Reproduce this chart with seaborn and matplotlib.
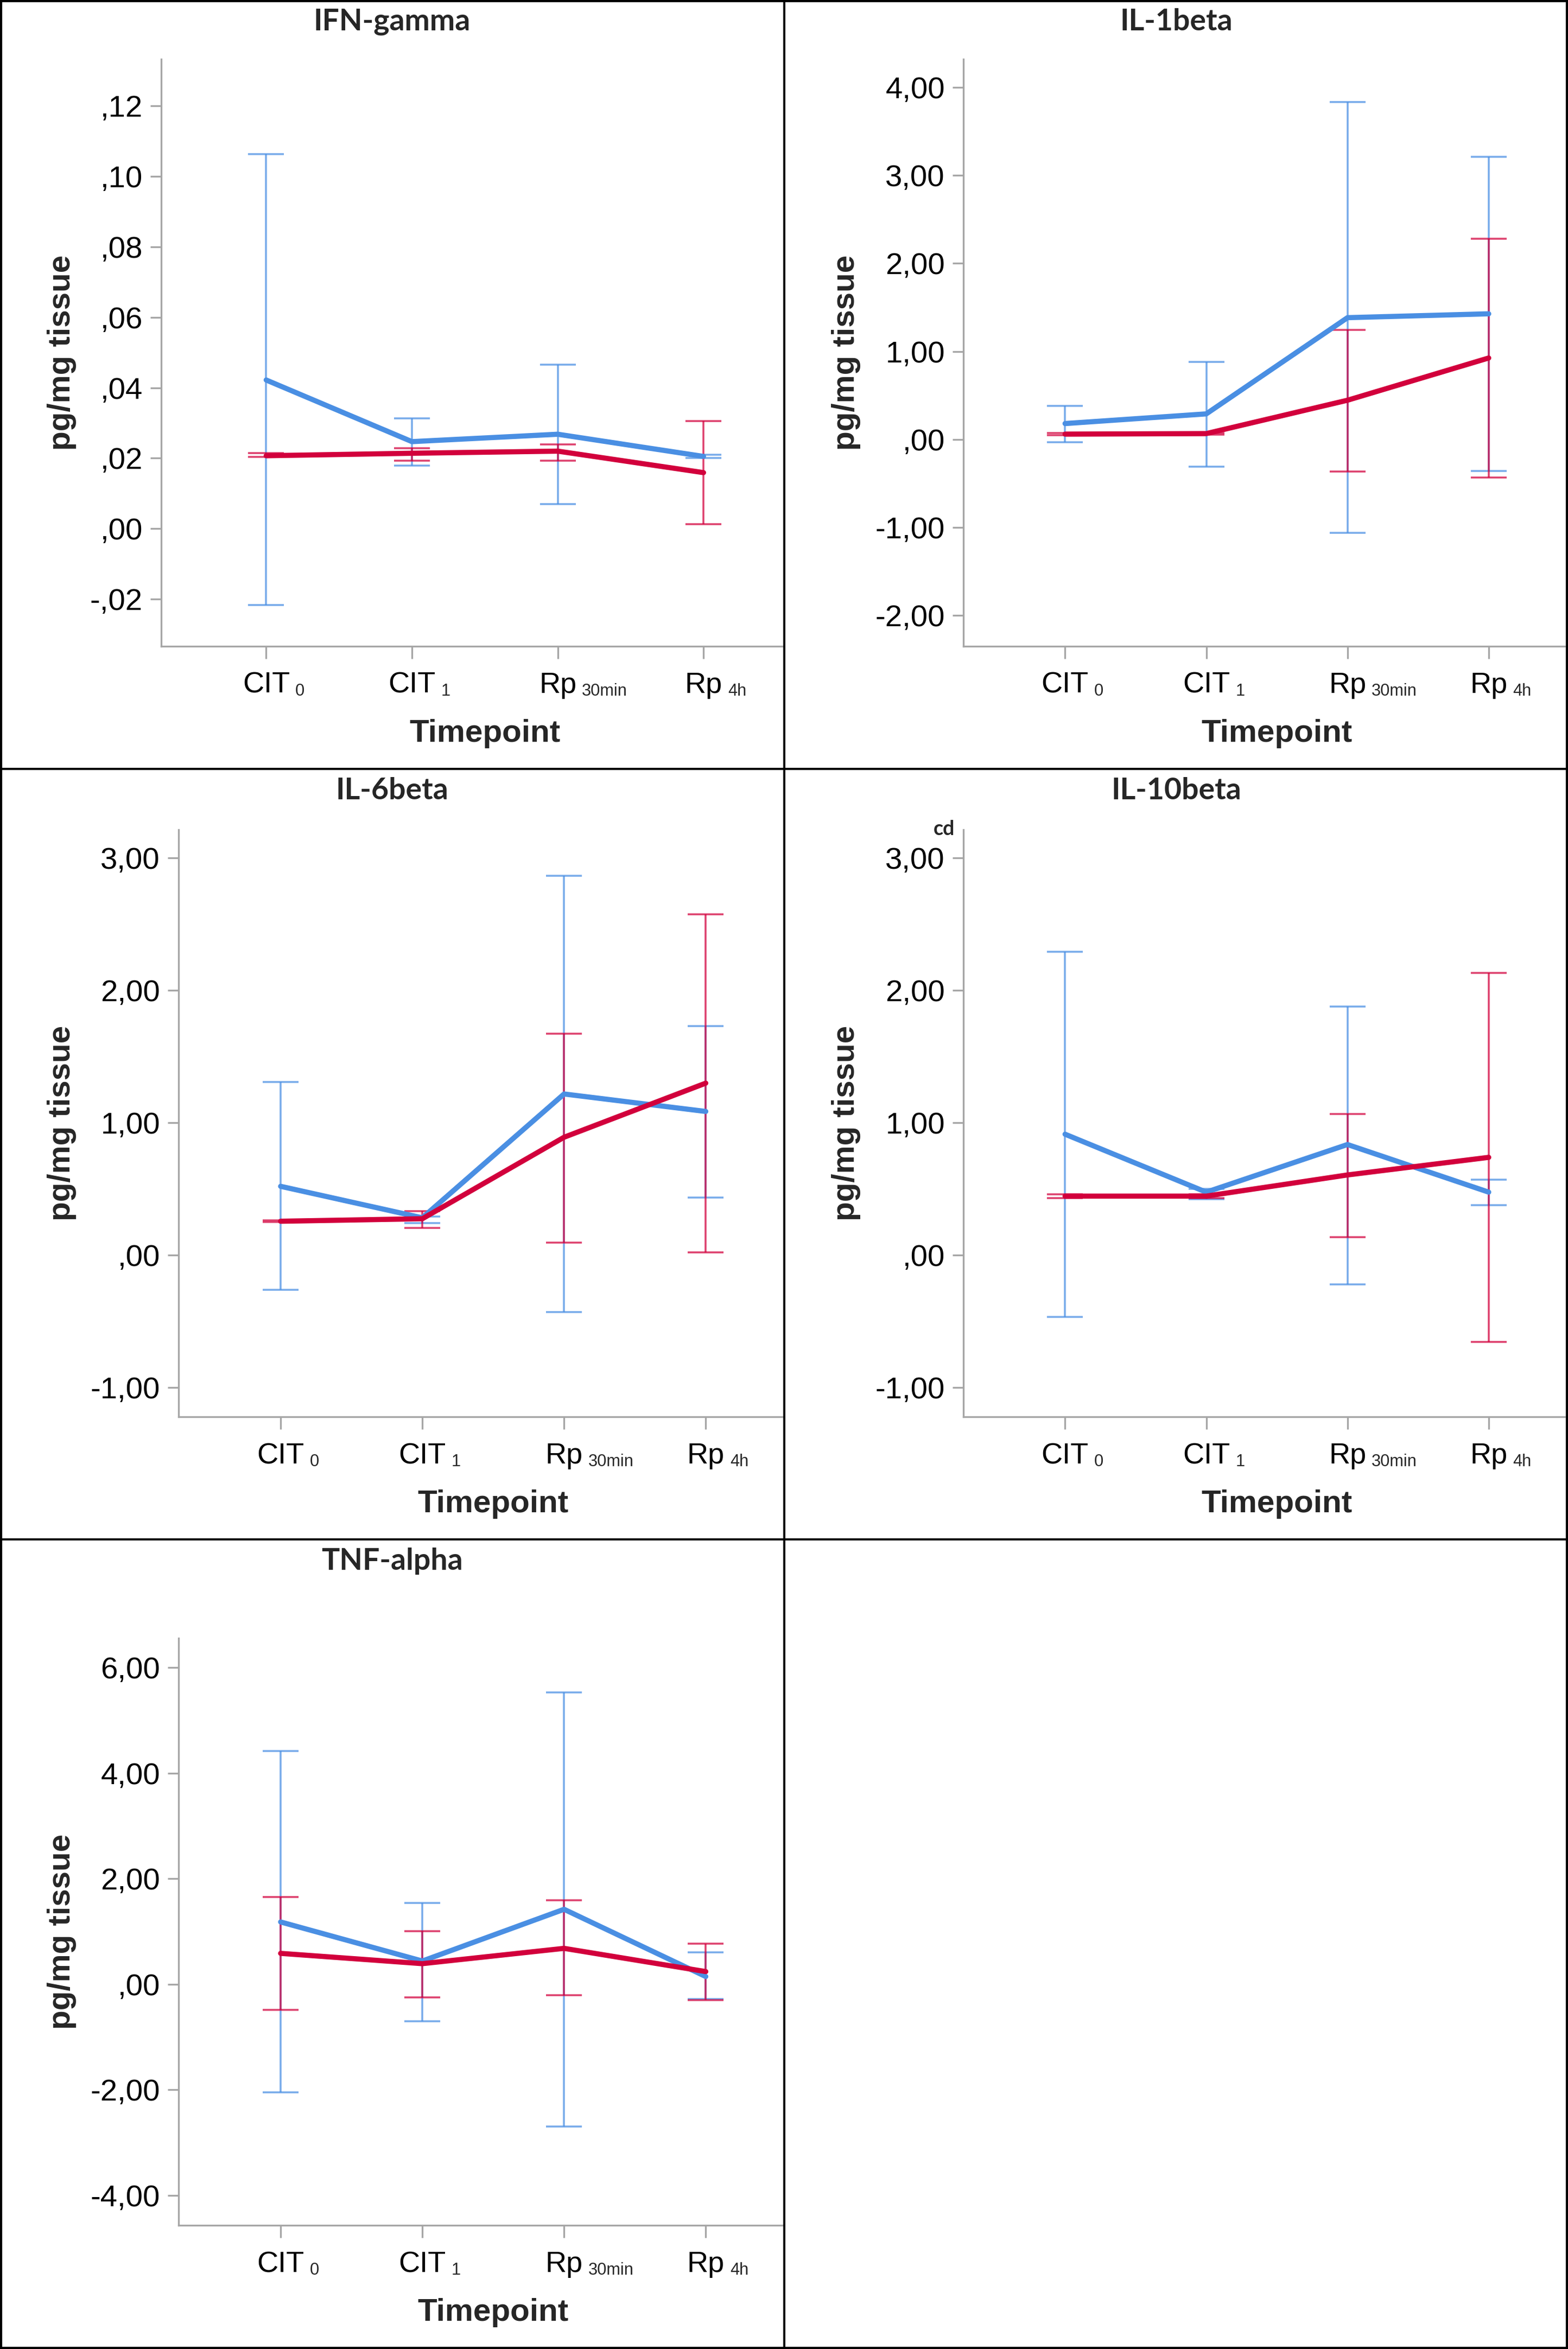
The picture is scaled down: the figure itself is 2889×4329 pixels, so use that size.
import pandas as pd
import matplotlib.pyplot as plt
import seaborn as sns
from matplotlib.lines import Line2D
from matplotlib.ticker import FuncFormatter, MultipleLocator
from matplotlib import transforms

W, H, DPI = 2889, 4329, 300

tp_main = ["CIT", "CIT", "Rp", "Rp"]
tp_sub = ["0", "1", "30min", "4h"]
groups = ["Group A", "Group B"]
colors = {"Group A": "#4a8fe3", "Group B": "#d2003c"}

# IFN-gamma
ifn_a_mean = [0.0422, 0.0247, 0.0268, 0.0205]
ifn_a_lo = [-0.0217, 0.0179, 0.0069, 0.0200]
ifn_a_hi = [0.1063, 0.0313, 0.0466, 0.0210]
ifn_b_mean = [0.0207, 0.0214, 0.0220, 0.0159]
ifn_b_lo = [0.0203, 0.0193, 0.0193, 0.0012]
ifn_b_hi = [0.0214, 0.0229, 0.0239, 0.0306]

# IL-1beta
il1_a_mean = [0.18, 0.29, 1.383, 1.427]
il1_a_lo = [-0.035, -0.31, -1.06, -0.36]
il1_a_hi = [0.378, 0.88, 3.83, 3.21]
il1_b_mean = [0.06, 0.066, 0.445, 0.925]
il1_b_lo = [0.05, 0.055, -0.364, -0.43]
il1_b_hi = [0.07, 0.075, 1.243, 2.28]

# IL-6beta
il6_a_mean = [0.519, 0.281, 1.217, 1.085]
il6_a_lo = [-0.265, 0.24, -0.432, 0.434]
il6_a_hi = [1.306, 0.292, 2.866, 1.73]
il6_b_mean = [0.255, 0.274, 0.890, 1.299]
il6_b_lo = [0.25, 0.203, 0.092, 0.018]
il6_b_hi = [0.26, 0.333, 1.674, 2.577]

# IL-10beta
il10_a_mean = [0.913, 0.475, 0.835, 0.475]
il10_a_lo = [-0.469, 0.42, -0.221, 0.378]
il10_a_hi = [2.294, 0.50, 1.878, 0.571]
il10_b_mean = [0.445, 0.445, 0.605, 0.738]
il10_b_lo = [0.43, 0.43, 0.133, -0.655]
il10_b_hi = [0.46, 0.46, 1.065, 2.131]

# TNF-alpha
tnf_a_mean = [1.18, 0.44, 1.42, 0.146]
tnf_a_lo = [-2.05, -0.70, -2.70, -0.28]
tnf_a_hi = [4.42, 1.54, 5.53, 0.60]
tnf_b_mean = [0.585, 0.39, 0.68, 0.24]
tnf_b_lo = [-0.49, -0.25, -0.21, -0.30]
tnf_b_hi = [1.65, 1.01, 1.59, 0.77]

sns.set_style("ticks")
plt.rcParams['font.family'] = ['Liberation Sans', 'DejaVu Sans']


def pt(px):
    return px * 72 / DPI


def spss_fmt(v, pos):
    s = f"{v:.2f}".replace(".", ",")
    if s.startswith("0,"):
        s = s[1:]
    elif s.startswith("-0,"):
        s = "-" + s[2:]
    return s


panels = [
    # title, data, box (left, top, right, bottom px), ylim, tick step, cell
    ("IFN-gamma", (ifn_a_mean, ifn_a_lo, ifn_a_hi, ifn_b_mean, ifn_b_lo, ifn_b_hi),
     (297, 109, 1444, 1191), (-0.0334, 0.1333), 0.02, (0, 0)),
    ("IL-1beta", (il1_a_mean, il1_a_lo, il1_a_hi, il1_b_mean, il1_b_lo, il1_b_hi),
     (1775, 109, 2886, 1191), (-2.35, 4.32), 1.0, (1, 0)),
    ("IL-6beta", (il6_a_mean, il6_a_lo, il6_a_hi, il6_b_mean, il6_b_lo, il6_b_hi),
     (329, 1529, 1444, 2611), (-1.223, 3.215), 1.0, (0, 1)),
    ("IL-10beta", (il10_a_mean, il10_a_lo, il10_a_hi, il10_b_mean, il10_b_lo, il10_b_hi),
     (1775, 1529, 2886, 2611), (-1.223, 3.215), 1.0, (1, 1)),
    ("TNF-alpha", (tnf_a_mean, tnf_a_lo, tnf_a_hi, tnf_b_mean, tnf_b_lo, tnf_b_hi),
     (329, 3019, 1444, 4101), (-4.566, 6.556), 2.0, (0, 2)),
]

row_top = [0, 1417, 2837]
col_left = [0, 1445]
col_w = [1445, 1444]

fig = plt.figure(figsize=(W / DPI, H / DPI), dpi=DPI)
xlim = (-0.72, 3.55)
axes = []

for title, vals, box, ylim, step, (ci, ri) in panels:
    l, t, r, b = box
    ax = fig.add_axes([l / W, 1 - b / H, (r - l) / W, (b - t) / H])
    axes.append(ax)
    a_mean, a_lo, a_hi, b_mean, b_lo, b_hi = vals
    rows = []
    for g, m, lo, hi in [(groups[0], a_mean, a_lo, a_hi), (groups[1], b_mean, b_lo, b_hi)]:
        for i in range(len(tp_main)):
            rows.append({"pos": i, "group": g, "mean": m[i], "lo": lo[i], "hi": hi[i]})
    df = pd.DataFrame(rows)

    for g in groups:
        d = df[df["group"] == g]
        ax.errorbar(d["pos"], d["mean"],
                    yerr=[d["mean"] - d["lo"], d["hi"] - d["mean"]],
                    fmt="none", ecolor=colors[g], alpha=0.75,
                    elinewidth=pt(3.5), capsize=pt(33), capthick=pt(3.5), zorder=1)

    sns.lineplot(data=df, x="pos", y="mean", hue="group", hue_order=groups,
                 palette=colors, linewidth=pt(9.5), legend=False, ax=ax,
                 zorder=2)

    ax.set_xlim(*xlim)
    ax.set_ylim(*ylim)
    ax.set_xticks(range(len(tp_main)))
    ax.set_xticklabels(tp_main)
    ax.yaxis.set_major_locator(MultipleLocator(step))
    ax.yaxis.set_major_formatter(FuncFormatter(spss_fmt))

    sns.despine(ax=ax)
    for sp in ["left", "bottom"]:
        ax.spines[sp].set_color("#a6a6a6")
        ax.spines[sp].set_linewidth(pt(3.3))
    ax.tick_params(axis="both", colors="#a6a6a6", width=pt(3.3), labelcolor="black")
    ax.tick_params(axis="x", length=pt(23), pad=pt(63), labelsize=13)
    ax.tick_params(axis="y", length=pt(20), pad=pt(14), labelsize=13.5)
    for lbl in ax.get_xticklabels():
        lbl.set_va("baseline")

    ax.set_xlabel("Timepoint", fontsize=14, fontweight="bold")
    ax.set_ylabel("pg/mg tissue", fontsize=14, fontweight="bold")
    axw, axh = r - l, b - t
    xfrac = (1.5 - xlim[0]) / (xlim[1] - xlim[0])
    ax.xaxis.set_label_coords(xfrac, -161 / axh)
    ax.xaxis.label.set_va("center")
    ax.yaxis.set_label_coords(-(l - col_left[ci] - 114) / axw, 0.5)
    ax.yaxis.label.set_va("center")

    # panel title centred on the cell
    cx = col_left[ci] + col_w[ci] / 2
    fig.text(cx / W, 1 - (row_top[ri] + 40) / H, title, ha="center", va="center",
             fontsize=13.3, fontweight="bold", family=["Lato", "DejaVu Sans"])

    if title == "IL-10beta":
        fig.text(1739 / W, 1 - 1528 / H, "cd", ha="center", va="center",
                 fontsize=9, fontweight="bold", family=["Lato", "DejaVu Sans"])

# subscripts after the main tick label text
fig.canvas.draw()
renderer = fig.canvas.get_renderer()
for ax in axes:
    base = transforms.blended_transform_factory(ax.transData, ax.transAxes)
    for i, lbl in enumerate(ax.get_xticklabels()):
        wm = lbl.get_window_extent(renderer).width
        tr = transforms.offset_copy(base, fig=fig, x=wm / 2 + 10, y=-91, units="dots")
        ax.text(i, 0, tp_sub[i], transform=tr, ha="left", va="baseline",
                fontsize=7.4, clip_on=False)

# cell borders
lw = pt(4)
for x in [2 / W, 1445 / W, 1 - 2 / W]:
    fig.add_artist(Line2D([x, x], [0, 1], color="black", lw=lw, transform=fig.transFigure))
for y in [1 - 2 / H, 1 - 1417 / H, 1 - 2837 / H, 2 / H]:
    fig.add_artist(Line2D([0, 1], [y, y], color="black", lw=lw, transform=fig.transFigure))

fig.savefig("out.png", dpi=DPI)
